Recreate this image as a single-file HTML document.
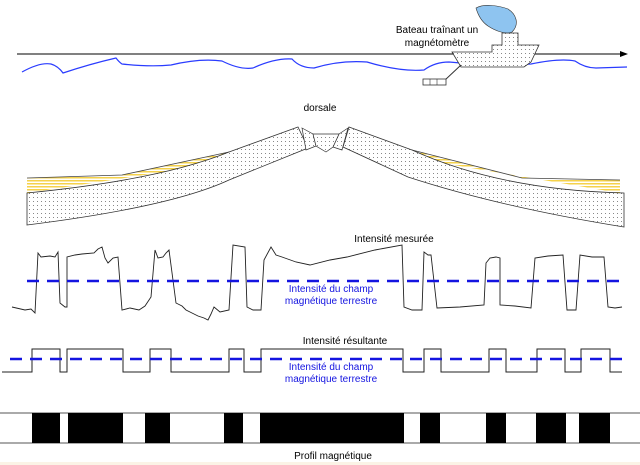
<!DOCTYPE html>
<html><head><meta charset="utf-8"><style>
html,body{margin:0;padding:0;background:#fff;}
svg{display:block;}
text{font-family:"Liberation Sans",sans-serif;font-size:10px;}
</style></head><body>
<svg width="640" height="465" viewBox="0 0 640 465" xmlns="http://www.w3.org/2000/svg">
<defs>
<pattern id="dots" width="4" height="4" patternUnits="userSpaceOnUse"><rect width="4" height="4" fill="#fff"/><rect x="1" y="1" width="1" height="1" fill="#888"/></pattern>
<pattern id="yel" width="4" height="3" patternUnits="userSpaceOnUse"><rect width="4" height="3" fill="#fff"/><rect width="4" height="1.5" fill="#f5d24a"/></pattern>
</defs>
<rect x="0" y="462" width="640" height="3" fill="#fbf3e6"/>
<line x1="17" y1="54" x2="622" y2="54" stroke="#000" stroke-width="1"/>
<polygon points="628,54 620,51 620,57" fill="#000"/>
<path fill="none" stroke="#2a3cff" stroke-width="1.2" d="M22,72 Q40,62 51,64 Q58,66 63,73 Q90,64 116,58 Q119,62 122,64 Q150,67 171,65 Q200,58 222,61 Q240,70 253,68 Q275,58 292,59 Q300,68 314,68 Q340,60 367,62 Q400,72 424,70 Q435,62 449,62 Q490,66 531,64 Q560,58 575,61 Q585,68 596,68 L627,67"/>
<path d="M502,33 L518,33 L518,45 L539,45 L531,62 L524,67 L461,67 L452,52 L492,52 L492,45 L502,45 Z" fill="url(#dots)" stroke="#333" stroke-width="0.8"/>
<line x1="461" y1="65" x2="445" y2="80" stroke="#333"/>
<rect x="423" y="79" width="23" height="6" fill="#fff" stroke="#333" stroke-width="0.8"/>
<line x1="430" y1="79" x2="430" y2="85" stroke="#333" stroke-width="0.6"/><line x1="437" y1="79" x2="437" y2="85" stroke="#333" stroke-width="0.6"/>
<path d="M476,8 C485,3 500,6 508,9 C516,14 520,24 512,32 C505,35 494,30 488,26 C482,22 478,15 476,8 Z" fill="#8ec4f0" stroke="#333" stroke-width="0.6"/>
<text x="437" y="33" text-anchor="middle">Bateau traînant un</text>
<text x="437" y="46" text-anchor="middle">magnétomètre</text>
<text x="320" y="111" text-anchor="middle">dorsale</text>
<path d="M27,178 L122,175 L229,152 L229,162 L27,193 Z" fill="url(#yel)" stroke="none"/>
<path d="M412,150 L522,178 L620,180 L620,193 L412,158 Z" fill="url(#yel)" stroke="none"/>
<path d="M27,178 L122,175 L229,152" fill="none" stroke="#444" stroke-width="0.8"/>
<path d="M412,150 L522,178 L620,180" fill="none" stroke="#444" stroke-width="0.8"/>
<path d="M27,193 Q160,180 229,152 L298,127 L308,148 L229,180 Q171,207 27,225 Z" fill="url(#dots)" stroke="#333" stroke-width="0.8"/>
<path d="M349,127 L412,150 Q500,190 624,193 L624,227 Q500,207 408,177 L343,147 Z" fill="url(#dots)" stroke="#333" stroke-width="0.8"/>
<path d="M302,128 L313,134 L316,146 L306,150 Z" fill="url(#dots)" stroke="#333" stroke-width="0.7"/>
<path d="M339,134 L348,128 L342,150 L333,147 Z" fill="url(#dots)" stroke="#333" stroke-width="0.7"/>
<path d="M313,134 L339,134 L333,147 L326,152 L316,146 Z" fill="url(#dots)" stroke="#333" stroke-width="0.7"/>
<text x="394" y="242" text-anchor="middle">Intensité mesurée</text>
<polyline fill="none" stroke="#222" stroke-width="0.9" points="12,307 25,310 31,309 35,313 38,253 41,257 50,256 55,257 58,252 60,303 65,307 67,307 67,257 75,255 82,254 94,253 98,249 102,247 105,258 108,263 113,258 118,257 122,310 130,308 139,310 145,306 151,297 155,250 158,258 163,257 166,253 169,250 176,303 182,306 186,310 192,313 198,316 204,318 208,320 211,314 214,307 220,312 229,310 233,245 245,247 247,307 253,310 261,310 264,260 271,247 276,255 282,257 296,262 310,265 330,260 347,257 375,250 402,245 404,307 412,310 422,310 424,252 428,255 431,255 437,308 460,307 484,305 486,263 490,258 496,257 500,258 500,305 515,306 531,308 535,258 548,256 563,255 567,310 576,310 580,255 592,257 604,257 608,307 615,308 622,307"/>
<line x1="27" y1="281" x2="622" y2="281" stroke="#1414e0" stroke-width="2.5" stroke-dasharray="12,8"/>
<text x="331" y="292" text-anchor="middle" fill="#1414e0">Intensité du champ</text>
<text x="331" y="304" text-anchor="middle" fill="#1414e0">magnétique terrestre</text>
<text x="345" y="344" text-anchor="middle">Intensité résultante</text>
<polyline fill="none" stroke="#222" stroke-width="1" points="2,372 32,372 32,349 60,349 60,372 67,372 67,349 123,349 123,372 150,372 150,349 171,349 171,372 229,372 229,349 244,349 244,372 261,372 261,349 403,349 403,372 424,372 424,349 441,349 441,372 489,372 489,349 506,349 506,372 537,372 537,349 565,349 565,372 581,372 581,349 610,349 610,372 622,372"/>
<line x1="10" y1="359" x2="622" y2="359" stroke="#1414e0" stroke-width="2.5" stroke-dasharray="12,8"/>
<text x="331" y="370" text-anchor="middle" fill="#1414e0">Intensité du champ</text>
<text x="331" y="382" text-anchor="middle" fill="#1414e0">magnétique terrestre</text>
<line x1="0" y1="413" x2="640" y2="413" stroke="#555"/>
<line x1="0" y1="443" x2="640" y2="443" stroke="#555"/>
<g fill="#000">
<rect x="32" y="413" width="28" height="30"/><rect x="68" y="413" width="55" height="30"/><rect x="145" y="413" width="25" height="30"/><rect x="224" y="413" width="19" height="30"/><rect x="260" y="413" width="144" height="30"/><rect x="420" y="413" width="20" height="30"/><rect x="486" y="413" width="20" height="30"/><rect x="536" y="413" width="30" height="30"/><rect x="579" y="413" width="31" height="30"/>
</g>
<text x="333" y="459" text-anchor="middle">Profil magnétique</text>
</svg>
</body></html>
